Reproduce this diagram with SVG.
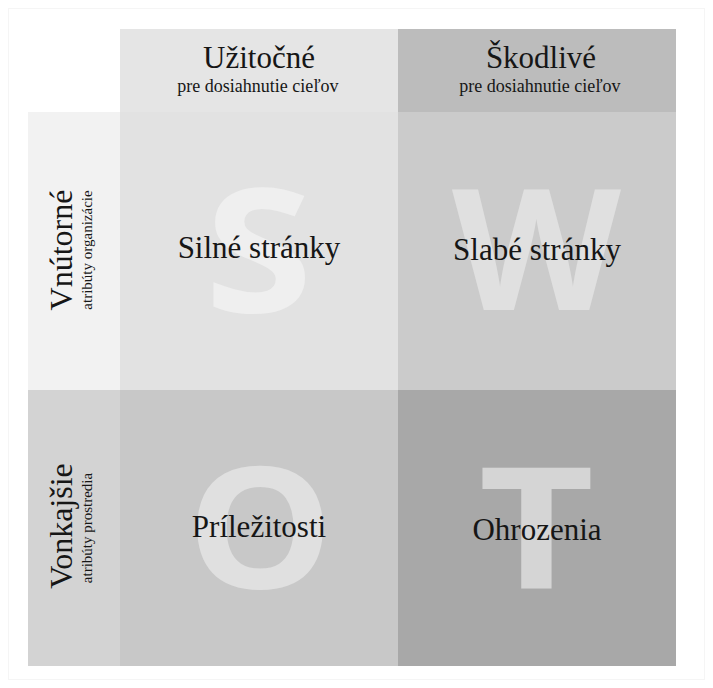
<svg xmlns="http://www.w3.org/2000/svg" width="713" height="688" viewBox="0 0 713 688">
<style>
.t{font-family:"Liberation Serif","Times New Roman",serif;fill:#161616;text-anchor:middle}
.big{font-size:31px}
.sub{font-size:18px}
.lbl{font-size:32px}
.sm{font-size:15px}
.L{font-family:"Open Sans","DejaVu Sans",sans-serif;font-weight:700;font-size:168px;text-anchor:middle}
</style>
<rect width="713" height="688" fill="#ffffff"/>
<rect x="8.5" y="8.5" width="696" height="671" fill="none" stroke="#f5f5f5" stroke-width="1"/>
<g id="header-useful">
<rect x="120" y="29" width="278" height="83" fill="#e5e5e5"/>
<text class="t big" x="259" y="68">Užitočné</text>
<text class="t sub" x="258" y="92">pre dosiahnutie cieľov</text>
</g>
<g id="header-harmful">
<rect x="398" y="29" width="278" height="83" fill="#bcbcbc"/>
<text class="t big" x="541" y="68">Škodlivé</text>
<text class="t sub" x="540" y="92">pre dosiahnutie cieľov</text>
</g>
<g id="row-internal">
<rect x="28" y="112" width="92" height="278" fill="#f2f2f2"/>
<text class="t lbl" transform="translate(72,250) rotate(-90)">Vnútorné</text>
<text class="t sm" transform="translate(92,250) rotate(-90)">atribúty organizácie</text>
</g>
<g id="row-external">
<rect x="28" y="390" width="92" height="276" fill="#d3d3d3"/>
<text class="t lbl" transform="translate(72,526) rotate(-90)">Vonkajšie</text>
<text class="t sm" transform="translate(92,528) rotate(-90)">atribúty prostredia</text>
</g>
<g id="cell-S">
<rect x="120" y="112" width="278" height="278" fill="#e2e2e2"/>
<text class="L" transform="translate(258.5,312) scale(1.17,1.03)" fill="#efefef">S</text>
<text class="t big" x="259" y="258">Silné stránky</text>
</g>
<g id="cell-W">
<rect x="398" y="112" width="278" height="278" fill="#cbcbcb"/>
<text class="L" transform="translate(536.5,310) scale(1.04,1)" fill="#e0e0e0">W</text>
<text class="t big" x="537" y="260">Slabé stránky</text>
</g>
<g id="cell-O">
<rect x="120" y="390" width="278" height="276" fill="#c8c8c8"/>
<text class="L" transform="translate(260,588) scale(1.1,1)" fill="#e0e0e0">O</text>
<text class="t big" x="259" y="537">Príležitosti</text>
</g>
<g id="cell-T">
<rect x="398" y="390" width="278" height="276" fill="#a8a8a8"/>
<text class="L" transform="translate(536.5,588) scale(1.19,1)" fill="#d5d5d5">T</text>
<text class="t big" x="537" y="540">Ohrozenia</text>
</g>
<g id="connectors"/>
</svg>
